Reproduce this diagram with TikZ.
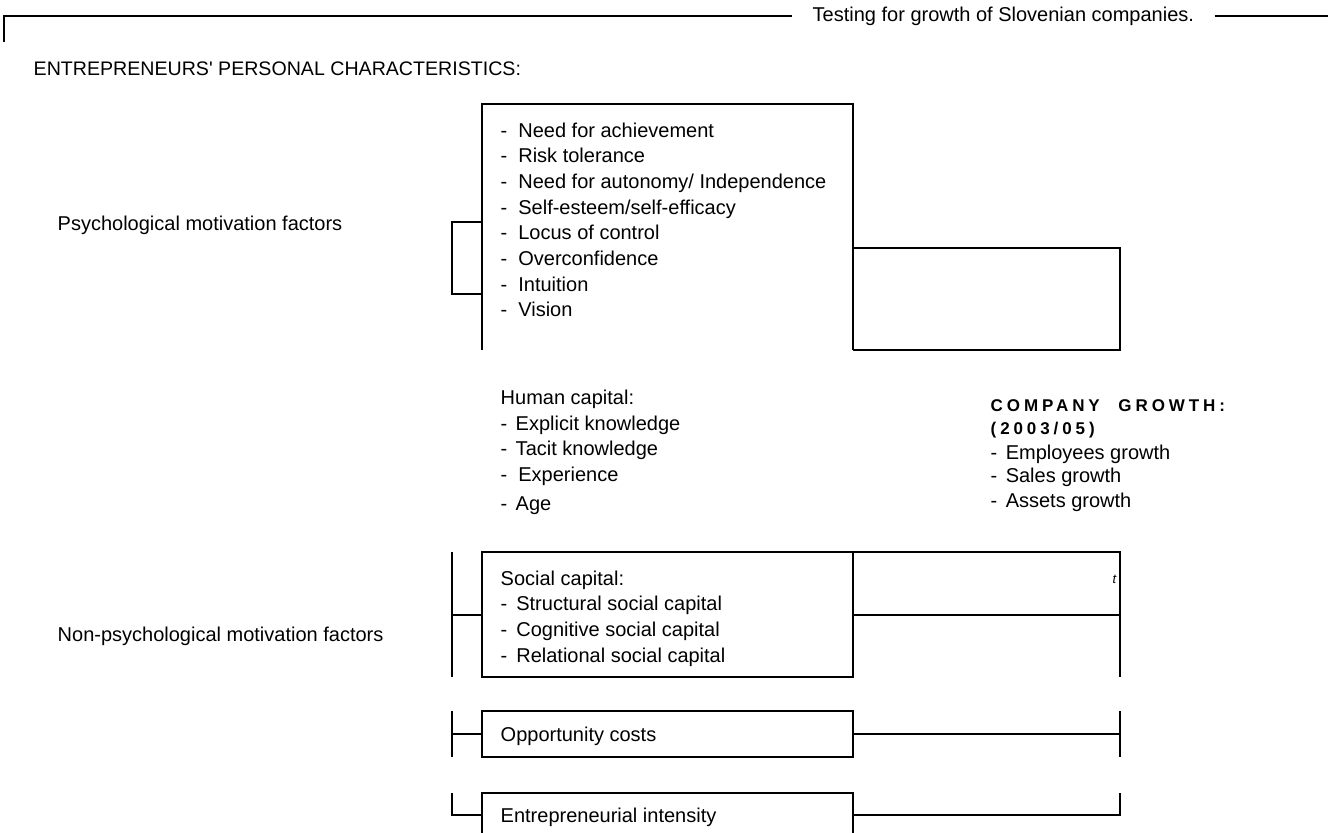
\documentclass[tikz,border=0pt]{standalone}
\usepackage{fontspec}
\setmainfont{Liberation Sans}
\begin{document}
\begin{tikzpicture}[x=0.5pt,y=-0.5pt,line width=0.7pt,
  txt/.style={inner sep=0pt,anchor=base west,font=\fontsize{10}{12.75}\selectfont},
  cg/.style={inner sep=0pt,anchor=base west,font=\fontsize{8.5}{10}\selectfont\bfseries\addfontfeature{LetterSpace=23}}]
\useasboundingbox (0,0) rectangle (1328,832);
% header
\node[txt,anchor=west] (title) at (812,16) {Testing for growth of Slovenian companies.};
\draw (4,42) -- (4,16) -- ([xshift=-10pt]title.west |- 0,16);
\draw ([xshift=10pt]title.east |- 0,16) -- (1328,16);
\node[txt,font=\fontsize{9.8}{12}\selectfont] (epc) at (33,75) {ENTREPRENEURS\textquotesingle{} PERSONAL CHARACTERISTICS:};
% left labels
\node[txt] (psy) at (57,230) {Psychological motivation factors};
\node[txt] (nonpsy) at (57,641) {Non-psychological motivation factors};
% top box
\draw (482,350) -- (482,104) -- (853,104) -- (853,350);
\draw (853,248) -- (1120,248) -- (1120,350) -- (853,350);
\draw (482,222) -- (452,222) -- (452,294) -- (482,294);
\foreach \t [count=\i] in {Need for achievement,Risk tolerance,Need for autonomy/ Independence,Self-esteem/self-efficacy,Locus of control,Overconfidence,Intuition,Vision}
  \node[txt] (item\i) at (500,{137+25.7*(\i-1)}) {-\hspace{0.55em}\t};
% human capital
\node[txt] (hc) at (500,404) {Human capital:};
\node[txt] (hc1) at (500,430) {-\hspace{0.42em}Explicit knowledge};
\node[txt] (hc2) at (500,455) {-\hspace{0.42em}Tacit knowledge};
\node[txt] (hc3) at (500,481) {-\hspace{0.55em}Experience};
\node[txt] (hc4) at (500,510) {-\hspace{0.42em}Age};
% company growth
\node[cg] (cgt) at (990,411) {COMPANY\hspace{1.1em}GROWTH:};
\node[cg] (cgy) at (990,434) {(2003/05)};
\node[txt] (cg1) at (990,459) {-\hspace{0.42em}Employees growth};
\node[txt] (cg2) at (990,482) {-\hspace{0.42em}Sales growth};
\node[txt] (cg3) at (990,507) {-\hspace{0.42em}Assets growth};
% social capital
\draw (482,552) rectangle (853,677);
\draw (853,552) -- (1120,552) -- (1120,677);
\draw (853,615) -- (1120,615);
\draw (452,552) -- (452,677);
\draw (452,615) -- (482,615);
\node[txt] (sc) at (500,585) {Social capital:};
\node[txt] (sc1) at (500,610) {-\hspace{0.45em}Structural social capital};
\node[txt] (sc2) at (500,636) {-\hspace{0.45em}Cognitive social capital};
\node[txt] (sc3) at (500,662) {-\hspace{0.45em}Relational social capital};
\node[inner sep=0pt,anchor=base east,font=\fontsize{6.5}{7}\selectfont\itshape] (tt) at (1117,583) {t};
% opportunity costs
\draw (482,711) rectangle (853,757);
\draw (452,711) -- (452,757);
\draw (452,734) -- (482,734);
\draw (853,734) -- (1121,734);
\draw (1120,711) -- (1120,757);
\node[txt] (oc) at (500,741) {Opportunity costs};
% entrepreneurial intensity
\draw (482,833) -- (482,793) -- (853,793) -- (853,833);
\draw (452,793) -- (452,815) -- (482,815);
\draw (853,815) -- (1121,815);
\draw (1120,793) -- (1120,815);
\node[txt] (ei) at (500,822) {Entrepreneurial intensity};
\end{tikzpicture}
\end{document}
